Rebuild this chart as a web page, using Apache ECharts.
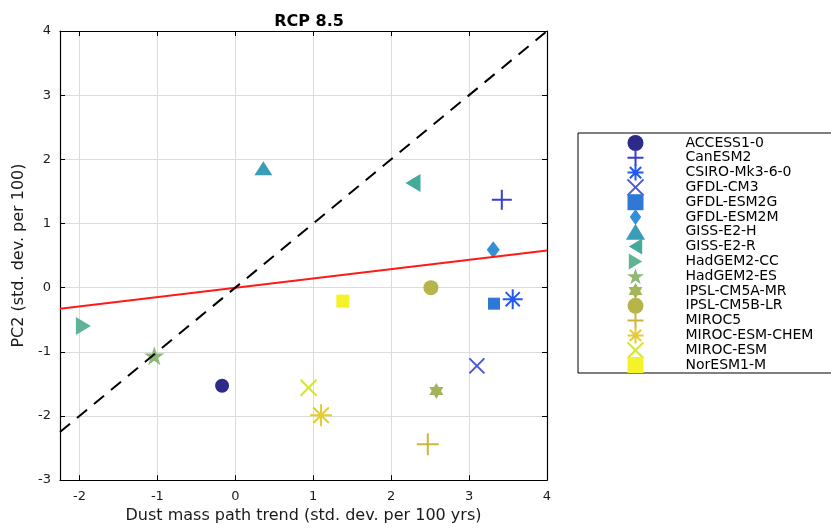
<!DOCTYPE html>
<html>
<head>
<meta charset="utf-8">
<script src="https://cdn.jsdelivr.net/npm/echarts@6/dist/echarts.min.js"></script>
<style>
  html, body { margin: 0; padding: 0; background: #fff; }
  #chart { width: 831px; height: 529px; }
</style>
</head>
<body>
<div id="chart"></div>
<script>
// CMIP5 models, RCP 8.5: dust trend vs PC2 trend
const models = ['ACCESS1-0', 'CanESM2', 'CSIRO-Mk3-6-0', 'GFDL-CM3', 'GFDL-ESM2G', 'GFDL-ESM2M',
  'GISS-E2-H', 'GISS-E2-R', 'HadGEM2-CC', 'HadGEM2-ES', 'IPSL-CM5A-MR', 'IPSL-CM5B-LR',
  'MIROC5', 'MIROC-ESM-CHEM', 'MIROC-ESM', 'NorESM1-M'];
const dustTrend = [-0.17, 3.42, 3.56, 3.10, 3.32, 3.31, 0.36, 2.28, -1.95, -1.04, 2.58, 2.51, 2.47, 1.10, 0.94, 1.38];
const pc2Trend  = [-1.53, 1.37, -0.18, -1.22, -0.25, 0.59, 1.86, 1.63, -0.60, -1.06, -1.61, 0.0, -2.44, -1.99, -1.56, -0.21];

// least-squares fit line end points and the 1:1 reference line
const fitX = [-2.25, 4];
const fitY = [-0.33, 0.58];
const oneToOne = [-2.25, 4];

// axis limits
const xRange = [-2.25, 4];
const yRange = [-3, 4];

// marker glyphs (MATLAB-like)
const P = {
  circle: 'circle',
  plus: 'path://M10,0L10,20M0,10L20,10',
  star: 'path://M10,0L10,20M0,10L20,10M2.93,2.93L17.07,17.07M2.93,17.07L17.07,2.93',
  cross: 'path://M0,0L10,10M0,10L10,0',
  square: 'path://M0,0L10,0L10,10L0,10Z',
  diamond: 'path://M5,0L10,7L5,14L0,7Z',
  triUp: 'path://M9,0L18,15L0,15Z',
  triLeft: 'path://M0,9L15,0L15,18Z',
  triRight: 'path://M15,9L0,0L0,18Z',
  penta: 'path://M50,0L61.23,34.55L97.55,34.55L68.16,55.9L79.39,90.45L50,69.1L20.61,90.45L31.84,55.9L2.45,34.55L38.77,34.55Z',
  hexa: 'path://M50,0L64.43,25L93.3,25L78.87,50L93.3,75L64.43,75L50,100L35.57,75L6.7,75L21.13,50L6.7,25L35.57,25Z'
};

// per-model marker style: [glyph, size, colour, stroked?]
const markerStyles = [
  [P.circle, 14, '#2e2a8a', false],
  [P.plus, 20, '#3a3fd0', true],
  [P.star, 20, '#2459ee', true],
  [P.cross, 15, '#4a55de', true],
  [P.square, 12, '#2f78d6', false],
  [P.diamond, [13, 17], '#3490d6', false],
  [P.triUp, [18, 14], '#3a9db8', false],
  [P.triLeft, [15, 18], '#42ab9c', false],
  [P.triRight, [15, 18], '#5db596', false],
  [P.penta, [20, 19], '#8db878', false],
  [P.hexa, [14, 16], '#a3b45a', false],
  [P.circle, 15, '#b6b44a', false],
  [P.plus, 22, '#cfb43c', true],
  [P.star, 22, '#e6cc2e', true],
  [P.cross, 16, '#d4e43a', true],
  [P.square, 13, '#f6f22a', false]
];

function itemStyleFor(i) {
  const s = markerStyles[i];
  return s[3]
    ? { color: 'none', borderColor: s[2], borderWidth: 2, opacity: 1 }
    : { color: s[2], borderWidth: 0, opacity: 1 };
}

const scatterSeries = models.map((name, i) => ({
  name: name,
  type: 'scatter',
  xAxisIndex: 0,
  yAxisIndex: 0,
  symbol: markerStyles[i][0],
  symbolSize: markerStyles[i][1],
  itemStyle: itemStyleFor(i),
  emphasis: { disabled: true },
  z: 3,
  data: [[dustTrend[i], pc2Trend[i]]]
}));

const legendData = models.map((name, i) => ({
  name: name,
  icon: markerStyles[i][0],
  itemStyle: itemStyleFor(i)
}));

const font = 'DejaVu Sans';
const axisLine = { show: true, onZero: false, lineStyle: { color: '#000', width: 1.2 } };
const tickInside = { show: true, inside: true, length: 5, lineStyle: { color: '#000', width: 1 } };
const intLabel = v => (Math.abs(v - Math.round(v)) < 1e-9 ? String(Math.round(v)) : '');

const option = {
  animation: false,
  backgroundColor: '#fff',
  title: {
    text: 'RCP 8.5',
    left: 304,
    textAlign: 'center',
    top: 9,
    textStyle: { fontFamily: font, fontSize: 16, fontWeight: 'bold', color: '#000' }
  },
  grid: { left: 60, right: 284, top: 31, bottom: 46, containLabel: false },
  legend: {
    orient: 'vertical',
    left: 578,
    top: 133,
    padding: [-1, 40, -3, 47],
    itemWidth: 20,
    itemHeight: 16,
    itemGap: -7.2,
    symbolKeepAspect: true,
    selectedMode: false,
    borderColor: '#000',
    borderWidth: 1,
    textStyle: { fontFamily: font, fontSize: 14, color: '#000', lineHeight: 22, padding: [0, 0, 0, 35] },
    data: legendData
  },
  xAxis: [
    {
      type: 'value', position: 'bottom', min: xRange[0], max: xRange[1], splitNumber: 6,
      axisLine: axisLine, axisTick: tickInside,
      axisLabel: { formatter: intLabel, margin: 10, fontFamily: font, fontSize: 13, color: '#1a1a1a' },
      splitLine: { show: true, lineStyle: { color: '#dcdcdc', width: 1 } },
      name: 'Dust mass path trend (std. dev. per 100 yrs)',
      nameLocation: 'middle', nameGap: 26,
      nameTextStyle: { fontFamily: font, fontSize: 16, color: '#1a1a1a' }
    },
    {
      type: 'value', position: 'top', min: xRange[0], max: xRange[1], splitNumber: 6,
      axisLine: axisLine, axisTick: tickInside,
      axisLabel: { show: false }, splitLine: { show: false }
    }
  ],
  yAxis: [
    {
      type: 'value', position: 'left', min: yRange[0], max: yRange[1], interval: 1,
      axisLine: axisLine, axisTick: tickInside,
      axisLabel: { formatter: intLabel, margin: 9, fontFamily: font, fontSize: 13, color: '#1a1a1a' },
      splitLine: { show: true, lineStyle: { color: '#dcdcdc', width: 1 } },
      name: 'PC2 (std. dev. per 100)',
      nameLocation: 'middle', nameGap: 32,
      nameTextStyle: { fontFamily: font, fontSize: 16, color: '#1a1a1a' }
    },
    {
      type: 'value', position: 'right', min: yRange[0], max: yRange[1], interval: 1,
      axisLine: axisLine, axisTick: tickInside,
      axisLabel: { show: false }, splitLine: { show: false }
    }
  ],
  series: scatterSeries.concat([
    {
      name: 'fit',
      type: 'line',
      xAxisIndex: 0, yAxisIndex: 0,
      symbol: 'none',
      silent: true,
      z: 5,
      lineStyle: { color: '#ff1a1a', width: 2 },
      data: [[fitX[0], fitY[0]], [fitX[1], fitY[1]]]
    },
    {
      name: '1:1',
      type: 'line',
      xAxisIndex: 0, yAxisIndex: 0,
      symbol: 'none',
      silent: true,
      z: 5,
      lineStyle: { color: '#000', width: 2, type: [13, 9] },
      data: [[oneToOne[0], oneToOne[0]], [oneToOne[1], oneToOne[1]]]
    }
  ])
};

const chart = echarts.init(document.getElementById('chart'), null, { renderer: 'canvas' });
chart.setOption(option);
</script>
</body>
</html>
